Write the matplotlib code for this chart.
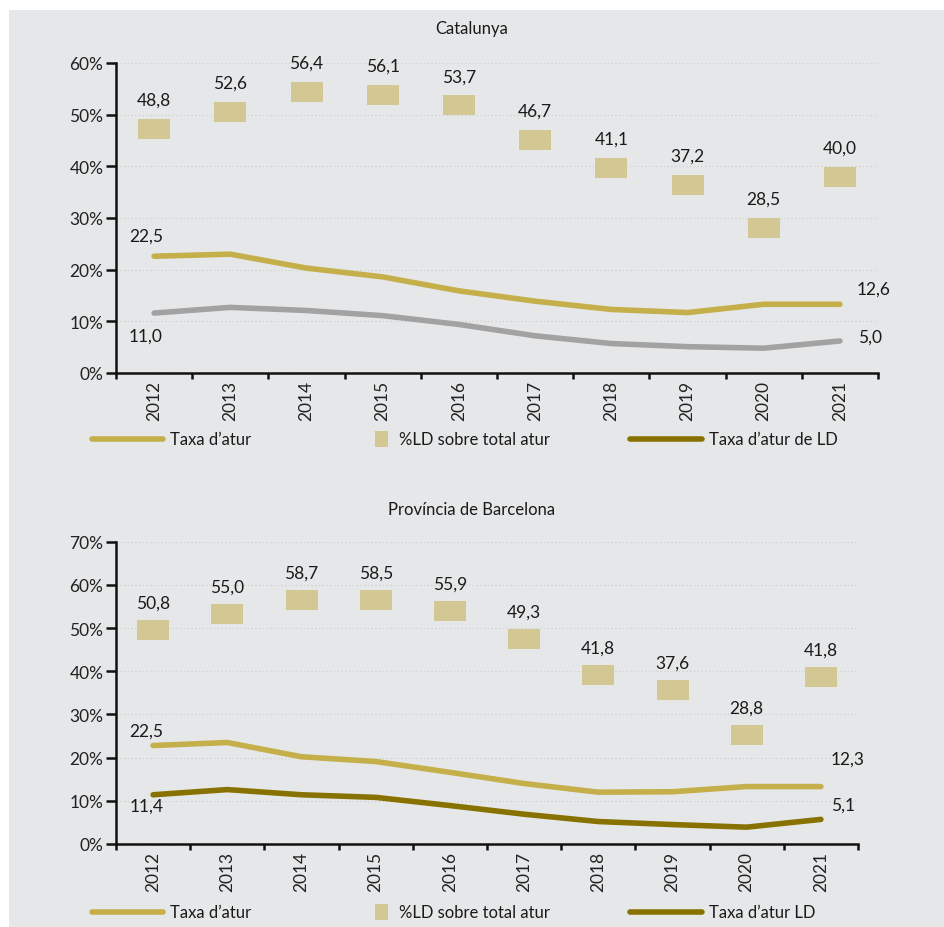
import matplotlib
matplotlib.use("Agg")
import matplotlib.pyplot as plt
from matplotlib.lines import Line2D
from matplotlib.patches import Rectangle
from matplotlib.ticker import FuncFormatter, MultipleLocator, FixedLocator

plt.rcParams['font.family'] = ['Lato', 'DejaVu Sans']

years = [str(y) for y in range(2012, 2022)]

# Catalunya
cat_taxa = [22.6, 23.0, 20.3, 18.6, 15.9, 13.9, 12.3, 11.7, 13.3, 13.3]
cat_ld_pct = [47.2, 50.5, 54.4, 53.8, 51.8, 45.1, 39.7, 36.4, 28.1, 37.9]
cat_taxa_ld = [11.6, 12.7, 12.1, 11.1, 9.4, 7.2, 5.7, 5.1, 4.8, 6.2]
cat_ld_labels = ["48,8", "52,6", "56,4", "56,1", "53,7", "46,7", "41,1", "37,2", "28,5", "40,0"]
cat_line_labels = ["22,5", "11,0", "12,6", "5,0"]

# Província de Barcelona
bcn_taxa = [22.8, 23.5, 20.2, 19.1, 16.6, 14.0, 12.0, 12.1, 13.3, 13.3]
bcn_ld_pct = [49.6, 53.3, 56.5, 56.5, 54.0, 47.5, 39.2, 35.7, 25.3, 38.7]
bcn_taxa_ld = [11.4, 12.6, 11.4, 10.8, 8.9, 6.9, 5.2, 4.5, 3.9, 5.7]
bcn_ld_labels = ["50,8", "55,0", "58,7", "58,5", "55,9", "49,3", "41,8", "37,6", "28,8", "41,8"]
bcn_line_labels = ["22,5", "11,4", "12,3", "5,1"]

GOLD = "#C4AF4A"
SQUARE = "#D3C793"
DARK = "#877200"
GREY = "#A2A2A2"
BG = "#E6E7E8"
FS = 12.5

W, H = 944, 928
fig = plt.figure(figsize=(W / 100, H / 100), dpi=100, facecolor="white")
fig.patches.append(Rectangle((9 / W, 0), 1 - 9 / W, 1 - 11 / H, transform=fig.transFigure,
                             facecolor=BG, edgecolor="none", zorder=-10))

rect_marker = [(-1.6, -1), (1.6, -1), (1.6, 1), (-1.6, 1), (-1.6, -1)]


def fy(py):
    return 1 - py / H


def make_axes(left_px, right_px, top_px, bottom_px, ymax):
    ax = fig.add_axes([left_px / W, fy(bottom_px), (right_px - left_px) / W, (bottom_px - top_px) / H])
    ax.set_facecolor("none")
    ax.set_xlim(-0.5, 9.5)
    ax.set_ylim(0, ymax)
    ax.yaxis.set_major_locator(MultipleLocator(10))
    ax.yaxis.set_major_formatter(FuncFormatter(lambda v, p: f"{int(round(v))}%"))
    ax.grid(axis="y", color="#D0D0D0", linestyle=(0, (1, 2)), linewidth=0.9, zorder=0)
    ax.set_axisbelow(True)
    for s in ["top", "right"]:
        ax.spines[s].set_visible(False)
    for s in ["left", "bottom"]:
        ax.spines[s].set_linewidth(1.8)
        ax.spines[s].set_color("#111111")
    ax.set_xticks(range(10))
    ax.set_xticklabels(years, rotation=90, fontsize=FS, color="#222222")
    ax.xaxis.set_minor_locator(FixedLocator([i - 0.5 for i in range(11)]))
    ax.tick_params(axis="x", which="major", length=0, pad=5)
    ax.tick_params(axis="x", which="minor", length=4, width=1.8, direction="out", color="#111111")
    ax.tick_params(axis="y", which="major", length=7.5, width=1.8, pad=1.5, labelsize=FS,
                   labelcolor="#222222", color="#111111")
    return ax


def draw(ax, taxa, ldpct, taxald, ld_labels, line_labels, ldcolor, ld_off, offs):
    x = list(range(10))
    ax.plot(x, taxa, color=GOLD, lw=4, solid_capstyle="round", solid_joinstyle="round", zorder=3)
    ax.plot(x, taxald, color=ldcolor, lw=4, solid_capstyle="round", solid_joinstyle="round", zorder=3)
    ax.plot(x, ldpct, linestyle="none", marker=rect_marker, markersize=23, markeredgewidth=0,
            color=SQUARE, zorder=4)
    for xi, yi, t in zip(x, ldpct, ld_labels):
        ax.annotate(t, (xi, yi), xytext=(0, ld_off), textcoords="offset points",
                    ha="center", va="center", fontsize=FS, color="#1a1a1a")
    pts = [(0, taxa[0]), (0, taxald[0]), (9, taxa[9]), (9, taxald[9])]
    for (xi, yi), t, o in zip(pts, line_labels, offs):
        ax.annotate(t, (xi, yi), xytext=o, textcoords="offset points",
                    ha="center", va="center", fontsize=FS, color="#1a1a1a")


ax1 = make_axes(116, 878, 64, 374, 60)
draw(ax1, cat_taxa, cat_ld_pct, cat_taxa_ld, cat_ld_labels, cat_line_labels, GREY, 21,
     [(-6, 15), (-6, -16), (24, 11), (22, 3)])

ax2 = make_axes(116, 858, 542.7, 845, 70)
draw(ax2, bcn_taxa, bcn_ld_pct, bcn_taxa_ld, bcn_ld_labels, bcn_line_labels, DARK, 19.5,
     [(-5, 11), (-5, -8), (19, 20), (16, 10.5)])

fig.text(0.5, fy(29), "Catalunya", ha="center", va="center", fontsize=12, color="#1a1a1a")
fig.text(0.5, fy(510), "Província de Barcelona", ha="center", va="center", fontsize=12, color="#1a1a1a")


def legend(ypx, third_label):
    y = fy(ypx)
    fig.add_artist(Line2D([92 / W, 163 / W], [y, y], color=GOLD, lw=4, solid_capstyle="round",
                          transform=fig.transFigure))
    fig.text(170 / W, y, "Taxa d\u2019atur", ha="left", va="center", fontsize=12, color="#1a1a1a")
    fig.patches.append(Rectangle((375 / W, fy(ypx + 8)), 13 / W, 16 / H, transform=fig.transFigure,
                                 facecolor=SQUARE, edgecolor="none"))
    fig.text(399 / W, y, "%LD sobre total atur", ha="left", va="center", fontsize=12, color="#1a1a1a")
    fig.add_artist(Line2D([630 / W, 702 / W], [y, y], color=DARK, lw=4, solid_capstyle="round",
                          transform=fig.transFigure))
    fig.text(709 / W, y, third_label, ha="left", va="center", fontsize=12, color="#1a1a1a")


legend(440, "Taxa d\u2019atur de LD")
legend(913, "Taxa d\u2019atur LD")

fig.savefig("out.png", dpi=100, facecolor=fig.get_facecolor())
